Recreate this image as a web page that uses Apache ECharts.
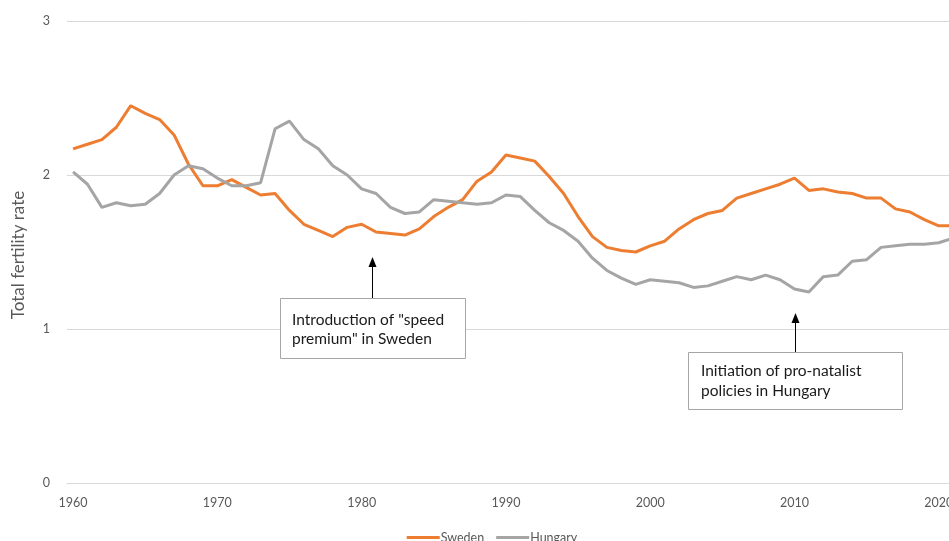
<!DOCTYPE html>
<html><head><meta charset="utf-8">
<script src="https://cdn.jsdelivr.net/npm/echarts@6/dist/echarts.min.js"></script>
<style>html,body{margin:0;padding:0;overflow:hidden;background:#fff}#c{width:984px;height:541px}</style>
</head><body><div id="c"></div><script>
const years = [1960,1961,1962,1963,1964,1965,1966,1967,1968,1969,1970,1971,1972,1973,1974,1975,1976,1977,1978,1979,1980,1981,1982,1983,1984,1985,1986,1987,1988,1989,1990,1991,1992,1993,1994,1995,1996,1997,1998,1999,2000,2001,2002,2003,2004,2005,2006,2007,2008,2009,2010,2011,2012,2013,2014,2015,2016,2017,2018,2019,2020,2021];
const sweden = [2.17,2.20,2.23,2.31,2.45,2.40,2.36,2.26,2.07,1.93,1.93,1.97,1.92,1.87,1.88,1.77,1.68,1.64,1.60,1.66,1.68,1.63,1.62,1.61,1.65,1.73,1.79,1.84,1.96,2.02,2.13,2.11,2.09,1.99,1.88,1.73,1.60,1.53,1.51,1.50,1.54,1.57,1.65,1.71,1.75,1.77,1.85,1.88,1.91,1.94,1.98,1.90,1.91,1.89,1.88,1.85,1.85,1.78,1.76,1.71,1.67,1.67];
const hungary = [2.02,1.94,1.79,1.82,1.80,1.81,1.88,2.00,2.06,2.04,1.98,1.93,1.93,1.95,2.30,2.35,2.23,2.17,2.06,2.00,1.91,1.88,1.79,1.75,1.76,1.84,1.83,1.82,1.81,1.82,1.87,1.86,1.77,1.69,1.64,1.57,1.46,1.38,1.33,1.29,1.32,1.31,1.30,1.27,1.28,1.31,1.34,1.32,1.35,1.32,1.26,1.24,1.34,1.35,1.44,1.45,1.53,1.54,1.55,1.55,1.56,1.59];
const xTickLabels = [1960,1970,1980,1990,2000,2010,2020];
const yTicks = [0,1,2,3];
const seriesNames = ['Sweden','Hungary'];
const annotation1 = 'Introduction of "speed\npremium" in Sweden';
const annotation2 = 'Initiation of pro-natalist\npolicies in Hungary';
const yTitle = 'Total fertility rate';

const FONT = 'Lato, "Noto Sans", sans-serif';
const chart = echarts.init(document.getElementById('c'));
chart.setOption({
  animation: false,
  backgroundColor: '#fff',
  color: ['#ED7D31', '#A5A5A5'],
  grid: { left: 67, right: 10.6, top: 21, bottom: 58, containLabel: false },
  xAxis: {
    type: 'value', min: 1959.58, max: 2022.4,
    axisLine: { lineStyle: { color: '#d9d9d9', width: 1 } },
    axisTick: { show: false },
    splitLine: { show: false },
    axisLabel: { customValues: xTickLabels, formatter: v => String(v), color: '#595959', fontSize: 12.5, fontFamily: FONT, margin: 13 }
  },
  yAxis: {
    type: 'value', min: yTicks[0], max: yTicks[yTicks.length-1], interval: 1,
    axisLine: { show: false }, axisTick: { show: false },
    splitLine: { lineStyle: { color: '#d9d9d9', width: 1 } },
    axisLabel: { formatter: v => String(v), color: '#595959', fontSize: 12.5, fontFamily: FONT, margin: 17 }
  },
  legend: {
    data: seriesNames, left: 'center', top: 526, icon: 'rect', itemWidth: 33, itemHeight: 3, itemGap: 12,
    textStyle: { color: '#595959', fontSize: 12.5, fontFamily: FONT, padding: [0,0,0,-4] }
  },
  series: [
    { name: seriesNames[0], type: 'line', showSymbol: false, lineStyle: { width: 3 }, data: years.map((y,i)=>[y, sweden[i]]) },
    { name: seriesNames[1], type: 'line', showSymbol: false, lineStyle: { width: 3 }, data: years.map((y,i)=>[y, hungary[i]]) }
  ],
  graphic: [
    { type: 'text', x: 19, y: 255, rotation: Math.PI/2, style: { text: yTitle, fill: '#595959', font: '17px ' + FONT, textAlign: 'center', textVerticalAlign: 'middle' } },
    { type: 'rect', shape: { x: 280.5, y: 298.5, width: 185, height: 60 }, style: { fill: '#fff', stroke: '#a6a6a6', lineWidth: 1 }, z: 10 },
    { type: 'text', x: 292, y: 310.5, style: { text: annotation1, fill: '#1a1a1a', font: '15.5px ' + FONT, lineHeight: 19, textVerticalAlign: 'top' }, z: 11 },
    { type: 'line', shape: { x1: 372.5, y1: 298, x2: 372.5, y2: 265 }, style: { stroke: '#000', lineWidth: 1 }, z: 10 },
    { type: 'polygon', shape: { points: [[372.5,257],[368.5,267],[376.5,267]] }, style: { fill: '#000' }, z: 10 },
    { type: 'rect', shape: { x: 688.5, y: 352.5, width: 214, height: 57 }, style: { fill: '#fff', stroke: '#a6a6a6', lineWidth: 1 }, z: 10 },
    { type: 'text', x: 701, y: 361, style: { text: annotation2, fill: '#1a1a1a', font: '15.5px ' + FONT, lineHeight: 20, textVerticalAlign: 'top' }, z: 11 },
    { type: 'line', shape: { x1: 795.5, y1: 352, x2: 795.5, y2: 321 }, style: { stroke: '#000', lineWidth: 1 }, z: 10 },
    { type: 'polygon', shape: { points: [[795.5,313],[791.5,323],[799.5,323]] }, style: { fill: '#000' }, z: 10 }
  ]
});
</script></body></html>
